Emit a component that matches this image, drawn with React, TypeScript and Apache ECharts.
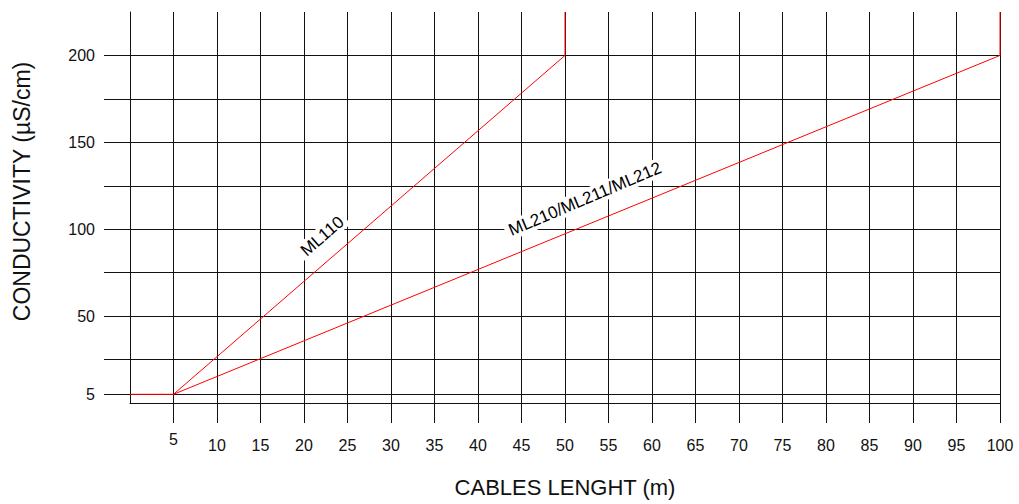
import React, { useEffect, useRef } from "react";
import * as echarts from "echarts";

// Cable length (m) vs conductivity (µS/cm)
const ml110Line: [number, number][] = [
  [0, 5],
  [5, 5],
  [50, 200],
  [50, 225],
];
const ml210Line: [number, number][] = [
  [5, 5],
  [100, 200],
  [100, 225],
];
const xTickValues = [5, 10, 15, 20, 25, 30, 35, 40, 45, 50, 55, 60, 65, 70, 75, 80, 85, 90, 95, 100];
const yLabelValues = [5, 50, 100, 150, 200];
const yTickValues = [5, 25, 50, 75, 100, 125, 150, 175, 200];
// label anchor points (x, y) in data units, with rotation
const labelNames = ["ML110", "ML210/ML211/ML212"];
const labelPoints: [number, number][] = [
  [22.1, 96],
  [52.3, 117.4],
];
const labelRotations = [41, 23];

const FONT = "Liberation Sans";
const INK = "#111";

export default function App() {
  const ref = useRef<HTMLDivElement>(null);
  useEffect(() => {
    const chart = echarts.init(ref.current!, null, { renderer: "svg" });
    chart.setOption({
      animation: false,
      backgroundColor: "#fff",
      grid: { left: 130, right: 19, top: 12, bottom: 101 },
      xAxis: {
        type: "value",
        min: 0,
        max: 100,
        interval: 5,
        name: "CABLES LENGHT (m)",
        nameLocation: "middle",
        nameGap: 73,
        nameTextStyle: { fontFamily: FONT, fontSize: 22, color: INK },
        axisLine: { show: true, lineStyle: { color: INK, width: 1 } },
        axisTick: {
          show: true,
          length: 20,
          customValues: xTickValues,
          lineStyle: { color: INK, width: 1 },
        },
        axisLabel: {
          customValues: xTickValues,
          margin: 28,
          fontFamily: FONT,
          fontSize: 16,
          color: INK,
          formatter: (v: number) => (v === 5 ? "{a|5}" : "{b|" + v + "}"),
          rich: {
            a: { fontFamily: FONT, fontSize: 16, color: INK },
            b: { fontFamily: FONT, fontSize: 16, color: INK, padding: [6, 0, 0, 0] },
          },
        },
        splitLine: { show: true, lineStyle: { color: INK, width: 1 } },
      },
      yAxis: {
        type: "value",
        min: 0,
        max: 225,
        interval: 25,
        name: "CONDUCTIVITY (µS/cm)",
        nameLocation: "middle",
        nameGap: 97,
        nameTextStyle: { fontFamily: FONT, fontSize: 23, color: INK, padding: [0, 0, 0, 32] },
        axisLine: { show: true, lineStyle: { color: INK, width: 1 } },
        axisTick: {
          show: true,
          length: 26,
          customValues: yTickValues,
          lineStyle: { color: INK, width: 1 },
        },
        axisLabel: {
          customValues: yLabelValues,
          margin: 35,
          fontFamily: FONT,
          fontSize: 16,
          color: INK,
        },
        splitLine: { show: true, lineStyle: { color: INK, width: 1 } },
      },
      series: [
        {
          name: "ML110",
          type: "line",
          data: ml110Line,
          symbol: "none",
          lineStyle: { color: "#ff0000", width: 1 },
          z: 3,
        },
        {
          name: "ML210/ML211/ML212",
          type: "line",
          data: ml210Line,
          symbol: "none",
          lineStyle: { color: "#ff0000", width: 1 },
          z: 3,
        },
        {
          type: "scatter",
          symbol: "circle",
          symbolSize: 1,
          itemStyle: { color: "#ffffff", opacity: 1 },
          z: 5,
          data: labelPoints.map((p, i) => ({
            value: p,
            label: {
              show: true,
              position: "inside",
              formatter: labelNames[i],
              rotate: labelRotations[i],
              fontFamily: FONT,
              fontSize: 17,
              color: "#000",
              textBorderWidth: 0,
              opacity: 1,
              backgroundColor: "#ffffff",
              padding: [1, 4],
            },
          })),
        },
      ],
    });
    return () => chart.dispose();
  }, []);
  return (
    <div
      ref={ref}
      style={{ position: "fixed", left: 0, top: 0, width: 1019, height: 504 }}
    />
  );
}
